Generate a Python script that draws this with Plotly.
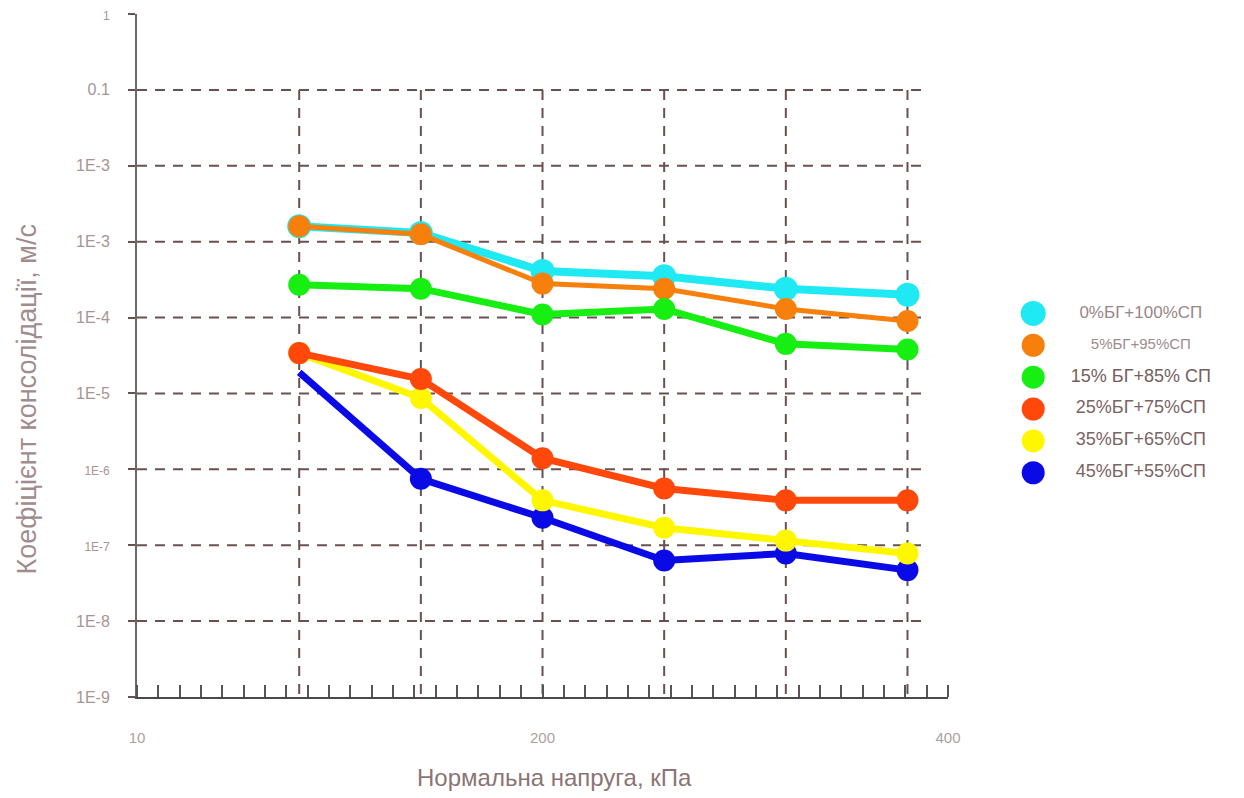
import plotly.graph_objects as go

# Normal stress, kPa
pressure = [80, 140, 200, 260, 320, 380]

# Consolidation coefficient, m/s, for each mix
bg0_sp100 = [1.6e-3, 1.3e-3, 4.1e-4, 3.5e-4, 2.4e-4, 2.0e-4]
bg5_sp95 = [1.6e-3, 1.25e-3, 2.8e-4, 2.4e-4, 1.3e-4, 9.0e-5]
bg15_sp85 = [2.7e-4, 2.4e-4, 1.1e-4, 1.3e-4, 4.5e-5, 3.8e-5]
bg25_sp75 = [3.4e-5, 1.55e-5, 1.4e-6, 5.6e-7, 3.9e-7, 3.9e-7]
bg35_sp65 = [3.4e-5, 8.7e-6, 3.9e-7, 1.7e-7, 1.15e-7, 7.8e-8]
bg45_sp55 = [1.9e-5, 7.5e-7, 2.3e-7, 6.3e-8, 7.8e-8, 4.7e-8]

series_names = ["0%БГ+100%СП", "5%БГ+95%СП", "15% БГ+85% СП",
                "25%БГ+75%СП", "35%БГ+65%СП", "45%БГ+55%СП"]

y_tick_vals = [1, 0.1, 1e-2, 1e-3, 1e-4, 1e-5, 1e-6, 1e-7, 1e-8, 1e-9]
y_tick_text = ["<span style='font-size:12px'>1</span>", "0.1", "1E-3", "1E-3", "1E-4", "1E-5",
               "<span style='font-size:12px'>1E-6</span>",
               "<span style='font-size:12px'>1E-7</span>", "1E-8", "1E-9"]
x_tick_vals = [0, 200, 400]
x_tick_text = ["10", "200", "400"]

COLORS = {
    "cyan": "#1fe9f2",
    "orange": "#f7800c",
    "green": "#17ee12",
    "red": "#ff480a",
    "yellow": "#fff700",
    "blue": "#0a0ae6",
}

fig = go.Figure()

# dashed grid: horizontal at decades 0.1..1E-8, vertical at each load step
grid_color = "#6a5050"
x_right = max(pressure) + 8
for v in y_tick_vals[1:-1]:
    fig.add_shape(type="line", xref="x", yref="y", x0=0, x1=x_right, y0=v, y1=v,
                  line=dict(color=grid_color, width=2, dash="10px,8px"), layer="below")
for p in pressure:
    fig.add_shape(type="line", xref="x", yref="y", x0=p, x1=p,
                  y0=y_tick_vals[1], y1=y_tick_vals[-1],
                  line=dict(color=grid_color, width=2, dash="10px,8px"), layer="below")

# curves (drawn so overlaps stack as in the figure)
curves = [
    (bg0_sp100, COLORS["cyan"], 8, 24, True),
    (bg5_sp95, COLORS["orange"], 5, 22, True),
    (bg15_sp85, COLORS["green"], 7, 22, True),
    (bg45_sp55, COLORS["blue"], 7, 22, False),
    (bg35_sp65, COLORS["yellow"], 7, 22, True),
    (bg25_sp75, COLORS["red"], 7, 22, True),
]
for vals, col, lw, ms, first_marker in curves:
    sizes = [ms] * len(vals)
    if not first_marker:
        sizes[0] = 0
    fig.add_trace(go.Scatter(
        x=pressure, y=vals, mode="lines+markers",
        line=dict(color=col, width=lw),
        marker=dict(color=col, size=sizes, opacity=1, line=dict(width=0)),
        showlegend=False, hoverinfo="skip", cliponaxis=False,
        xaxis="x", yaxis="y",
    ))

# key at the right
key_colors = [COLORS["cyan"], COLORS["orange"], COLORS["green"],
              COLORS["red"], COLORS["yellow"], COLORS["blue"]]
rows = list(range(len(series_names)))
fig.add_trace(go.Scatter(
    x=[0.13] * len(rows), y=rows, mode="markers",
    marker=dict(color=key_colors, size=[25, 23, 23, 23, 23, 23], opacity=1, line=dict(width=0)),
    showlegend=False, hoverinfo="skip", xaxis="x2", yaxis="y2", cliponaxis=False,
))
fig.add_trace(go.Scatter(
    x=[0.626] * len(rows), y=rows, mode="text", text=series_names,
    textposition="middle center",
    textfont=dict(family="Liberation Sans, Arial, sans-serif",
                  size=[17, 15, 18, 18, 18, 18],
                  color=["#9a8686", "#a08c8c", "#745e5e", "#7a6464", "#7a6464", "#7a6464"]),
    showlegend=False, hoverinfo="skip", xaxis="x2", yaxis="y2", cliponaxis=False,
))

fig.update_layout(
    width=1244, height=798,
    margin=dict(l=137, r=10, t=9, b=101),
    paper_bgcolor="white", plot_bgcolor="white",
    font=dict(family="Liberation Sans, Arial, sans-serif"),
    xaxis=dict(
        domain=[0, 0.7475], range=[0, 400],
        showgrid=False, zeroline=False,
        showline=True, linecolor="#4a4a4a", linewidth=2,
        tickvals=x_tick_vals, ticktext=x_tick_text,
        ticks="", ticklabelstandoff=26,
        tickfont=dict(size=15, color="#ad9f9f"),
        minor=dict(ticks="inside", ticklen=12, tickwidth=1.5, tickcolor="#555555",
                   dtick=400 / 38, tick0=0, showgrid=False),
        anchor="y",
    ),
    yaxis=dict(
        type="log", range=[-9, 0],
        showgrid=False, zeroline=False,
        showline=True, linecolor="#6a6a6a", linewidth=2,
        tickvals=y_tick_vals, ticktext=y_tick_text,
        ticks="outside", ticklen=7, tickwidth=2, tickcolor="#6a5050",
        ticklabelstandoff=15,
        tickfont=dict(size=16, color="#a89494"),
        anchor="x",
    ),
    xaxis2=dict(domain=[0.80, 1.0], range=[0, 1], visible=False, anchor="y2"),
    yaxis2=dict(domain=[0.305, 0.585], range=[5.5, -0.5], visible=False, anchor="x2"),
    annotations=[
        dict(text="Нормальна напруга, кПа", xref="paper", yref="paper",
             x=0.385, y=-0.118, showarrow=False, xanchor="center", yanchor="middle",
             font=dict(size=24, color="#8c7474")),
        dict(text="Коефіцієнт консолідації, м/с", xref="paper", yref="paper",
             x=-0.1012, y=0.436, showarrow=False, textangle=-90,
             xanchor="center", yanchor="middle",
             font=dict(size=27, color="#a08c8c")),
    ],
)

fig.write_html("out.html")
